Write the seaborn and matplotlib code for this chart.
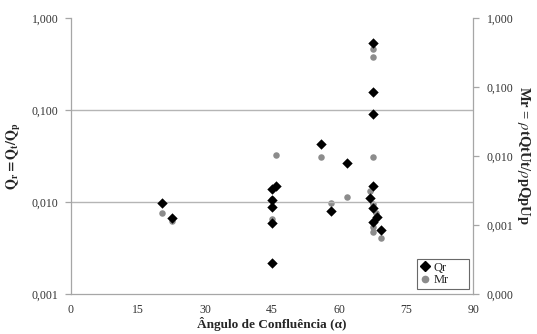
import numpy as np
import matplotlib
matplotlib.use('Agg')
import matplotlib.pyplot as plt
import seaborn as sns
from matplotlib.lines import Line2D
from matplotlib.ticker import FixedLocator, FuncFormatter, NullLocator

# dados
qr_ang = [20.5, 22.6, 45, 45, 45, 45, 45, 46, 56, 58.2, 61.7,
          67.5, 67.5, 67.5, 67.5, 66.9, 67.5, 67.5, 68.4, 69.5]
qr_val = [0.0097, 0.0067, 0.0138, 0.0105, 0.00875, 0.00587, 0.00216, 0.0149,
          0.0424, 0.00805, 0.0267, 0.53, 0.158, 0.0905, 0.015, 0.011,
          0.00855, 0.0061, 0.00682, 0.00496]

mr_ang = [20.5, 22.6, 45, 45, 45, 45, 45.9, 56, 58.2, 61.7,
          67.5, 67.5, 67.5, 67.5, 66.9, 67.5, 68.3, 67.5, 67.5, 69.5]
mr_val = [0.00149, 0.00113, 0.00238, 0.00184, 0.00122, 0.000285, 0.0102,
          0.0098, 0.00208, 0.00255, 0.35, 0.268, 0.085, 0.0098, 0.00308,
          0.00204, 0.00147, 0.00092, 0.0008, 0.00064]

x_ticks = [0, 15, 30, 45, 60, 75, 90]
left_ticks = [0.001, 0.01, 0.1, 1.0]
right_ticks = [0.0001, 0.001, 0.01, 0.1, 1.0]

sns.set_style('white')
plt.rcParams['font.family'] = ['Liberation Serif', 'DejaVu Serif']
plt.rcParams['mathtext.fontset'] = 'stix'

fig = plt.figure(figsize=(5.37, 3.34), dpi=100)
ax = fig.add_axes([0.132, 0.120, 0.749, 0.826])
ax2 = ax.twinx()
# Qr por cima de Mr
ax.set_zorder(ax2.get_zorder() + 1)
ax.patch.set_visible(False)

grey = '#a6a6a6'
sns.scatterplot(x=qr_ang, y=qr_val, ax=ax, marker='D', color='black',
                s=28, linewidth=0, zorder=3)
sns.scatterplot(x=mr_ang, y=mr_val, ax=ax2, marker='o', color='#8c8c8c',
                s=22, linewidth=0, zorder=3)

ax.set_yscale('log')
ax.set_ylim(0.001, 1.0)
ax2.set_yscale('log')
ax2.set_ylim(0.0001, 1.0)
ax.set_xlim(0, 90)

fmt = FuncFormatter(lambda v, p: ('%.3f' % v).replace('.', ','))
ax.yaxis.set_major_locator(FixedLocator(left_ticks))
ax.yaxis.set_minor_locator(NullLocator())
ax.yaxis.set_major_formatter(fmt)
ax2.yaxis.set_major_locator(FixedLocator(right_ticks))
ax2.yaxis.set_minor_locator(NullLocator())
ax2.yaxis.set_major_formatter(fmt)
ax.set_xticks(x_ticks)

for v in [0.01, 0.1]:
    ax.axhline(v, color='#b5b5b5', linewidth=1.0, zorder=0)

for a in (ax, ax2):
    for s in a.spines.values():
        s.set_color(grey)
        s.set_linewidth(0.9)
    a.spines['top'].set_visible(False)
    a.tick_params(colors=grey, labelcolor='#333333', labelsize=8.5,
                  length=4, width=0.9, direction='out')
ax.spines['right'].set_visible(False)
ax2.spines['left'].set_visible(False)
ax2.spines['bottom'].set_visible(False)
ax.tick_params(axis='x', pad=3)
ax.tick_params(axis='y', pad=5)
ax2.tick_params(axis='y', pad=6)

ax.set_xlabel('Ângulo de Confluência (α)', fontsize=9.5, fontweight='bold',
              labelpad=1)
ax.set_ylabel(r'$\mathbf{Q_r = Q_t/Q_p}$', fontsize=10, labelpad=6)
ax2.set_ylabel(r'Mr = $\rho$tQtUt/$\rho$pQpUp', fontsize=10.5,
               fontweight='bold', rotation=270, labelpad=13)

handles = [Line2D([], [], marker='D', color='black', linestyle='',
                  markersize=5),
           Line2D([], [], marker='o', color='#8c8c8c', linestyle='',
                  markersize=4.5)]
leg = ax2.legend(handles, ['Qr', 'Mr'], loc='lower left',
                 bbox_to_anchor=(0.861, 0.018, 0.129, 0.09), mode='expand',
                 fontsize=9, frameon=True, fancybox=False, handlelength=0.8,
                 handletextpad=0.3, borderpad=0.2, labelspacing=0.05,
                 borderaxespad=0)
leg.get_frame().set_edgecolor('#444444')
leg.get_frame().set_linewidth(0.8)

fig.savefig('out.png', dpi=100)
